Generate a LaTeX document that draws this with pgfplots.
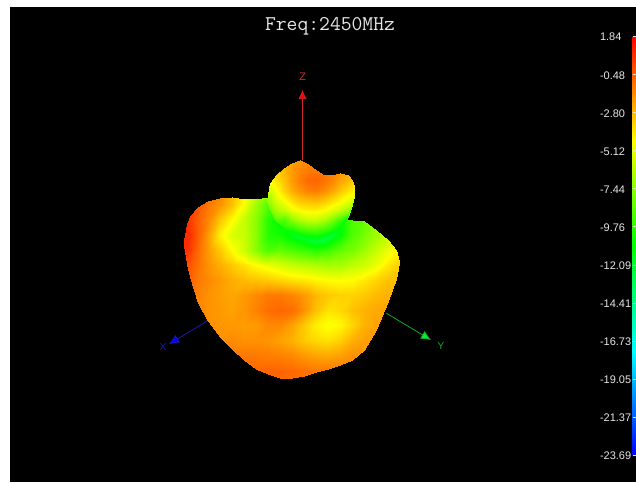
\documentclass[border=0pt]{standalone}
\usepackage{fontspec}
\setmainfont{Liberation Sans}
\usepackage{pgfplots}
\pgfplotsset{compat=1.18}
\usetikzlibrary{arrows.meta}
\pgfplotsset{
  colormap={radpattern}{rgb255=(0,0,255) rgb255=(0,255,255) rgb255=(0,255,0) rgb255=(255,255,0) rgb255=(255,0,0)},
}
\definecolor{axisred}{RGB}{215,40,40}
\definecolor{axisblue}{RGB}{30,25,185}
\definecolor{axisgreen}{RGB}{20,175,45}
\definecolor{headred}{RGB}{255,0,0}
\definecolor{headblue}{RGB}{0,0,255}
\definecolor{headgreen}{RGB}{0,240,50}
\definecolor{barlabel}{RGB}{230,230,230}
\begin{document}
\begin{tikzpicture}
\path[use as bounding box] (0,0) rectangle (636pt,482pt);
\begin{axis}[
    at={(0,0)}, anchor=south west,
    scale only axis,
    width=636pt, height=482pt,
    xmin=0, xmax=636, ymin=0, ymax=482,
    y dir=reverse,
    hide axis,
    clip=false,
    colormap name=radpattern,
    point meta min=-23.69, point meta max=1.84,
    colorbar,
    colorbar style={
        at={(1,0.925)}, anchor=north east,
        width=3.5pt, height=419pt,
        scale only axis,
        y dir=normal,
        ytick={1.84,-0.48,-2.80,-5.12,-7.44,-9.76,-12.09,-14.41,-16.73,-19.05,-21.37,-23.69},
        yticklabels={1.84,-0.48,-2.80,-5.12,-7.44,-9.76,-12.09,-14.41,-16.73,-19.05,-21.37,-23.69},
        yticklabel pos=left,
        yticklabel style={font=\fontsize{11}{11}\selectfont, text=barlabel, anchor=west, xshift=-36pt, yshift=-1pt},
        major tick length=2pt,
        tick style={draw=barlabel, line width=0.3pt},
        axis line style={draw=none},
    },
]
% frame of the window
\addplot[fill=black, draw=none, forget plot] coordinates {(10,7) (636,7) (636,482) (10,482)} --cycle;

% coordinate axes behind the pattern
\addplot[axisred, line width=0.7pt, -{Latex[length=9pt,width=8pt,fill=headred]}, forget plot] coordinates {(302.5,160) (302.5,90)};
\addplot[axisblue, line width=0.7pt, -{Latex[length=10pt,width=9pt,fill=headblue]}, forget plot] coordinates {(222,312) (169,344)};
\addplot[axisgreen, line width=0.7pt, -{Latex[length=10pt,width=9pt,fill=headgreen]}, forget plot] coordinates {(386,313) (431,340)};

% main lobe, one line for each column of the mesh
\addplot[surf, shader=interp, mesh/cols=14, point meta=explicit, forget plot] coordinates {
(184,240)[0.8] (184,240)[0.8] (184,240)[0.8] (184,240)[0.8] (184,245)[0.8] (184,245)[0.8] (184,245)[0.8] (184,245)[0.8] (184,245)[0.8] (184,245)[0.8] (184,245)[0.8] (184,245)[0.8] (184,245)[0.8] (184,245)[0.8]
(187,224)[0.8] (187,224)[0.8] (187,224)[0.8] (187,235)[0.8] (187,250)[0.7] (187,264)[0] (187,264)[0] (187,264)[0] (187,264)[0] (187,264)[0] (187,264)[0] (187,264)[0] (187,264)[0] (187,264)[0]
(190,216)[0.3] (190,216)[0.3] (190,220)[0.3] (190,235)[0.6] (190,250)[0.3] (190,265)[-0.3] (190,277)[-0.6] (190,277)[-0.6] (190,277)[-0.6] (190,277)[-0.6] (190,277)[-0.6] (190,277)[-0.6] (190,277)[-0.6] (190,277)[-0.6]
(198,207)[-0.3] (198,207)[-0.3] (198,220)[-0.6] (198,235)[-0.5] (198,250)[-0.8] (198,265)[-1] (198,280)[-1.2] (198,295)[-1.4] (198,303)[-1.5] (198,303)[-1.5] (198,303)[-1.5] (198,303)[-1.5] (198,303)[-1.5] (198,303)[-1.5]
(208,201)[-1] (208,205)[-1.2] (208,220)[-1.5] (208,235)[-2] (208,250)[-2] (208,265)[-1.8] (208,280)[-1.6] (208,295)[-1.8] (208,310)[-1.8] (208,321)[-1.8] (208,321)[-1.8] (208,321)[-1.8] (208,321)[-1.8] (208,321)[-1.8]
(220,197.5)[-1.6] (220,205)[-1.9] (220,220)[-3.2] (220,235)[-4.2] (220,250)[-3.2] (220,265)[-2.5] (220,280)[-2] (220,295)[-2.1] (220,310)[-2] (220,325)[-1.9] (220,337)[-1.8] (220,337)[-1.8] (220,337)[-1.8] (220,337)[-1.8]
(232,196.7)[-2.8] (232,205)[-3] (232,220)[-4.5] (232,235)[-5.5] (232,250)[-4.5] (232,265)[-3.2] (232,280)[-2.5] (232,295)[-2.3] (232,310)[-2.2] (232,325)[-2] (232,340)[-1.6] (232,349)[-1.4] (232,349)[-1.4] (232,349)[-1.4]
(244,198.5)[-4.5] (244,205)[-4.8] (244,220)[-6] (244,235)[-6] (244,250)[-5.8] (244,265)[-3.8] (244,280)[-2.8] (244,295)[-2] (244,310)[-1.9] (244,325)[-2.1] (244,340)[-1.8] (244,355)[-1.2] (244,360)[-1] (244,360)[-1]
(256,198.5)[-6.5] (256,205)[-7] (256,220)[-7.5] (256,235)[-7.5] (256,250)[-7.5] (256,265)[-4.5] (256,280)[-3] (256,295)[-1.6] (256,310)[-1.4] (256,325)[-2] (256,340)[-1.8] (256,355)[-1.2] (256,369)[-0.8] (256,369)[-0.8]
(268,197)[-8] (268,205)[-9] (268,220)[-10] (268,235)[-10] (268,250)[-9] (268,265)[-5] (268,280)[-3.2] (268,295)[-1.2] (268,310)[-0.9] (268,325)[-1.6] (268,340)[-1.9] (268,355)[-1.3] (268,370)[-0.7] (268,374)[-0.7]
(280,200)[-9.5] (280,205)[-10] (280,220)[-11] (280,235)[-10.5] (280,250)[-8.5] (280,265)[-5.5] (280,280)[-3.5] (280,295)[-1.2] (280,310)[-0.7] (280,325)[-1.6] (280,340)[-2.2] (280,355)[-1.4] (280,370)[-0.7] (280,378)[-0.7]
(292,204)[-11] (292,205)[-11] (292,220)[-11] (292,235)[-11.5] (292,250)[-9] (292,265)[-6] (292,280)[-3.8] (292,295)[-1.5] (292,310)[-0.9] (292,325)[-2.2] (292,340)[-2.6] (292,355)[-1.6] (292,370)[-0.8] (292,377.5)[-0.8]
(304,208)[-11] (304,208)[-11] (304,220)[-12] (304,235)[-12.5] (304,250)[-9.5] (304,265)[-6.2] (304,280)[-4] (304,295)[-2] (304,310)[-1.8] (304,325)[-3.2] (304,340)[-3.2] (304,355)[-2] (304,370)[-1] (304,375.5)[-1]
(316,212)[-12] (316,212)[-12] (316,220)[-12.5] (316,235)[-13.5] (316,250)[-10] (316,265)[-6.5] (316,280)[-4.3] (316,295)[-2.8] (316,310)[-3] (316,325)[-4.2] (316,340)[-3.6] (316,355)[-2.3] (316,370)[-1.2] (316,372)[-1.2]
(328,215)[-12] (328,215)[-12] (328,220)[-12] (328,235)[-13] (328,250)[-9.5] (328,265)[-6.8] (328,280)[-4.5] (328,295)[-3.2] (328,310)[-3.8] (328,325)[-4.7] (328,340)[-3.8] (328,355)[-2.4] (328,368.5)[-1.3] (328,368.5)[-1.3]
(340,218)[-11] (340,218)[-11] (340,220)[-11] (340,235)[-11] (340,250)[-8.5] (340,265)[-6.8] (340,280)[-4.6] (340,295)[-3.4] (340,310)[-3.6] (340,325)[-4.4] (340,340)[-3.4] (340,355)[-2.2] (340,365)[-1.6] (340,365)[-1.6]
(352,220)[-9] (352,220)[-9] (352,220)[-9] (352,235)[-9] (352,250)[-8] (352,265)[-6.2] (352,280)[-4.5] (352,295)[-3.4] (352,310)[-3] (352,325)[-3.5] (352,340)[-2.6] (352,355)[-1.8] (352,360)[-1.7] (352,360)[-1.7]
(364,221)[-8.5] (364,221)[-8.5] (364,221)[-8.5] (364,235)[-8] (364,250)[-7] (364,265)[-5.8] (364,280)[-4] (364,295)[-3.2] (364,310)[-2.6] (364,325)[-2.6] (364,340)[-2.2] (364,350)[-2] (364,350)[-2] (364,350)[-2]
(376,230)[-7] (376,230)[-7] (376,230)[-7] (376,235)[-7] (376,250)[-6] (376,265)[-5] (376,280)[-3.5] (376,295)[-2.8] (376,310)[-2.4] (376,325)[-2.2] (376,330)[-2.2] (376,330)[-2.2] (376,330)[-2.2] (376,330)[-2.2]
(388,240)[-5.8] (388,240)[-5.8] (388,240)[-5.8] (388,240)[-5.8] (388,250)[-5] (388,265)[-4] (388,280)[-3] (388,295)[-2.6] (388,301)[-2.4] (388,301)[-2.4] (388,301)[-2.4] (388,301)[-2.4] (388,301)[-2.4] (388,301)[-2.4]
(396,250)[-4.5] (396,250)[-4.5] (396,250)[-4.5] (396,250)[-4.5] (396,250)[-4.5] (396,265)[-3.5] (396,279)[-3] (396,279)[-3] (396,279)[-3] (396,279)[-3] (396,279)[-3] (396,279)[-3] (396,279)[-3] (396,279)[-3]
(399,262)[-3.5] (399,262)[-3.5] (399,262)[-3.5] (399,262)[-3.5] (399,262)[-3.5] (399,263)[-3.5] (399,263)[-3.5] (399,263)[-3.5] (399,263)[-3.5] (399,263)[-3.5] (399,263)[-3.5] (399,263)[-3.5] (399,263)[-3.5] (399,263)[-3.5]
};

% upper lobe
\addplot[surf, shader=interp, mesh/cols=9, point meta=explicit, forget plot] coordinates {
(266.5,200)[-7] (266.5,200)[-7] (266.5,200)[-7] (266.5,200)[-7] (266.5,200)[-7] (266.5,201)[-7] (266.5,201)[-7] (266.5,201)[-7] (266.5,201)[-7]
(270,182.5)[-4.8] (270,182.5)[-4.8] (270,182.5)[-4.8] (270,190)[-5.5] (270,200)[-6.8] (270,210)[-7.8] (270,210)[-7.8] (270,210)[-7.8] (270,210)[-7.8]
(276,175)[-3.4] (276,175)[-3.4] (276,180)[-3.8] (276,190)[-4.6] (276,200)[-5.5] (276,210)[-6.8] (276,221)[-9] (276,221)[-9] (276,221)[-9]
(284,167.5)[-2.8] (284,170)[-2.8] (284,180)[-3] (284,190)[-3.4] (284,200)[-4.6] (284,210)[-6] (284,220)[-9] (284,227)[-10] (284,227)[-10]
(292,162.5)[-2] (292,170)[-2] (292,180)[-2] (292,190)[-2.4] (292,200)[-3.6] (292,210)[-5] (292,220)[-7.5] (292,230)[-10.5] (292,232)[-10.8]
(300,160)[-1.8] (300,170)[-1.5] (300,180)[-1.3] (300,190)[-1.8] (300,200)[-3] (300,210)[-4.4] (300,220)[-6.5] (300,230)[-9.5] (300,235)[-11]
(308,164)[-1.5] (308,170)[-1.2] (308,180)[-0.8] (308,190)[-1.3] (308,200)[-2.8] (308,210)[-4.2] (308,220)[-6] (308,230)[-9] (308,239)[-12]
(316,170)[-1.3] (316,170)[-1.2] (316,180)[-0.7] (316,190)[-1.2] (316,200)[-2.7] (316,210)[-4.2] (316,220)[-6] (316,230)[-9] (316,242)[-12.5]
(324,175)[-1] (324,175)[-1] (324,180)[-1] (324,190)[-1.6] (324,200)[-3] (324,210)[-4.6] (324,220)[-6.6] (324,230)[-9.5] (324,240.5)[-13]
(332,174.5)[-1.4] (332,174.5)[-1.4] (332,180)[-1.5] (332,190)[-2.2] (332,200)[-3.6] (332,210)[-5.2] (332,220)[-7.8] (332,230)[-10.5] (332,235)[-12]
(340,173.3)[-2] (340,173.3)[-2] (340,180)[-2.2] (340,190)[-3] (340,200)[-4.3] (340,210)[-6] (340,220)[-9.5] (340,230)[-11.5] (340,230)[-11.5]
(348,175)[-2.5] (348,175)[-2.5] (348,180)[-2.8] (348,190)[-3.8] (348,200)[-5] (348,210)[-7] (348,217)[-10] (348,217)[-10] (348,217)[-10]
(352,180)[-3] (352,180)[-3] (352,180)[-3] (352,190)[-4] (352,200)[-5.5] (352,205)[-7] (352,205)[-7] (352,205)[-7] (352,205)[-7]
(354.5,190)[-4.2] (354.5,190)[-4.2] (354.5,190)[-4.2] (354.5,190)[-4.2] (354.5,191)[-4.2] (354.5,191)[-4.2] (354.5,191)[-4.2] (354.5,191)[-4.2] (354.5,191)[-4.2]
};

\node[text=axisred, font=\fontsize{11}{11}\selectfont] at (axis cs:302.7,77) {Z};
\node[text=axisblue, font=\fontsize{10}{10}\selectfont] at (axis cs:163,347) {X};
\node[text=axisgreen, font=\fontsize{10}{10}\selectfont] at (axis cs:441,346) {Y};
\node[text=barlabel, font=\ttfamily\fontsize{21}{21}\selectfont] at (axis cs:330,26) {Freq:2450MHz};
\end{axis}
\end{tikzpicture}
\end{document}
